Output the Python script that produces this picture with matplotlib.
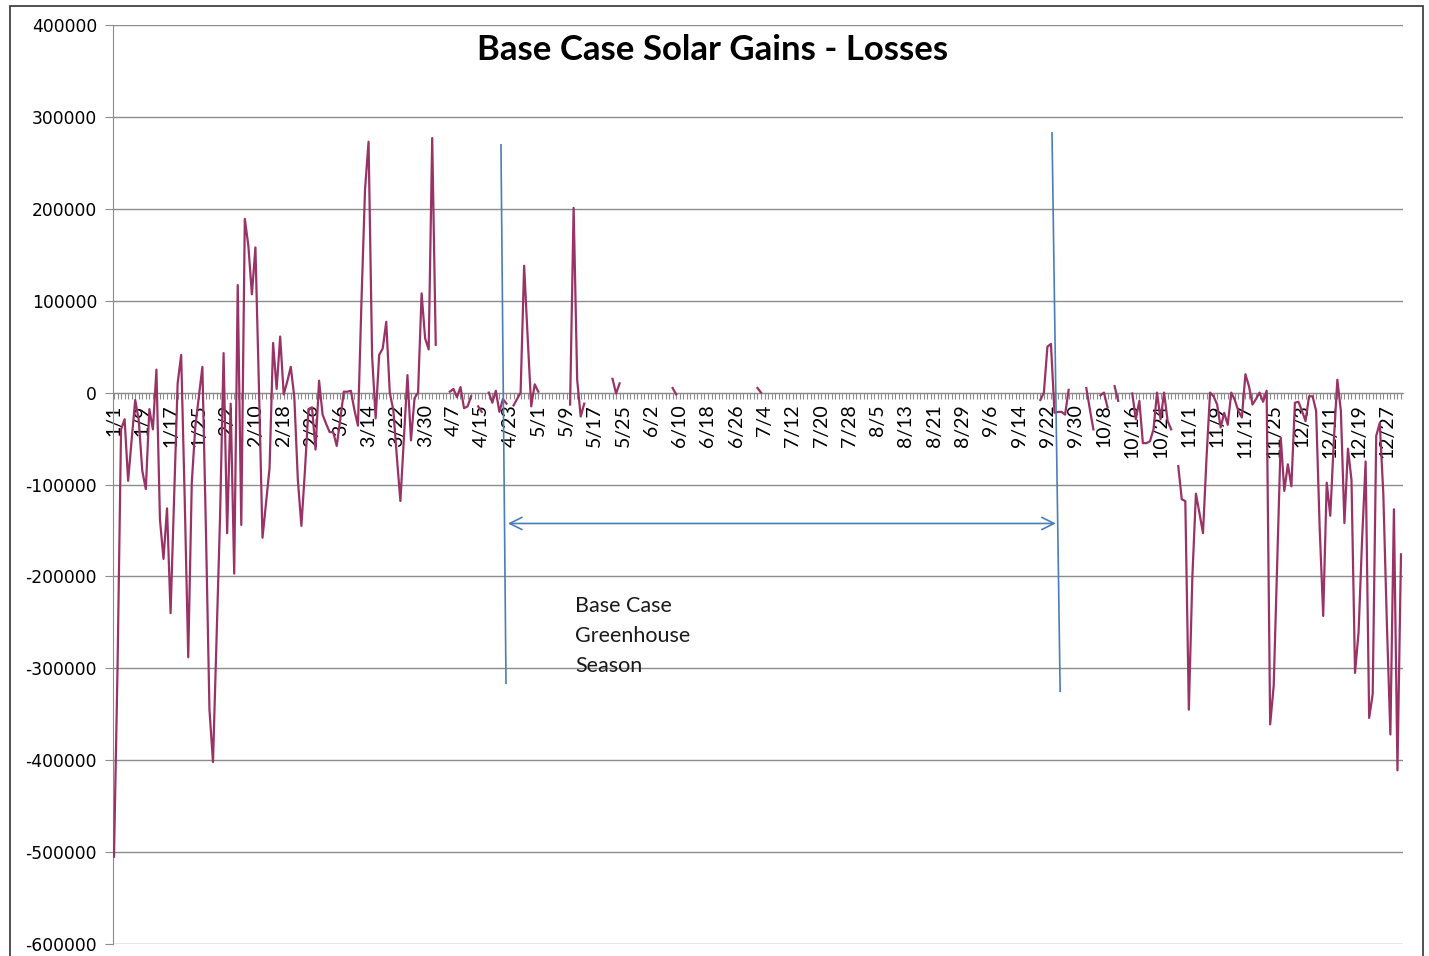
import numpy as np
import matplotlib
matplotlib.use("Agg")
import matplotlib.pyplot as plt
from matplotlib.ticker import MultipleLocator, FuncFormatter
from matplotlib.patches import Rectangle

nan = np.nan

# Daily "solar gains - losses" values (one per day, non-leap year); nan = no value
jan = [-505000, -300000, -40000, -29000, -96000, -51000, -8000, -30000, -85000, -105000,
       -18000, -40000, 25000, -138000, -181000, -126000, -240000, -115000, 10000, 41000,
       -116000, -288000, -98000, -37000, -4000, 28000, -149000, -345000, -402000, -270000,
       -135000]
feb = [43000, -153000, -12000, -197000, 117000, -144000, 189000, 160000, 107000, 158000,
       5000, -158000, -120000, -82000, 54000, 4000, 61000, -2000, 12000, 28000,
       -5000, -95000, -145000, -85000, -18000, -16000, -62000, 13000]
mar = [-24000, -34000, -43000, -43000, -58000, -29000, 1000, 1000, 2000, -19000,
       -36000, 100000, 221000, 273000, 40000, -28000, 41000, 48000, 77000, 0,
       -19000, -70000, -118000, -50000, 19000, -52000, -6000, 0, 108000, 59000,
       47000]
apr = [277000, 52000, nan, nan, nan, 1000, 4000, -5000, 6000, -17000,
       -15000, -4000, nan, -15000, -21000, nan, 0, -11000, 2000, -21000,
       -7000, -12000, nan, -14000, -7000, 0, 138000, 60000, -15000, 9000]
may = [1000, nan, nan, nan, nan, nan, nan, nan, nan, -13000,
       201000, 14000, -26000, -12000, nan, nan, nan, nan, nan, nan,
       nan, 15000, -1000, 10000, nan, nan, nan, nan, nan, nan,
       nan]
jun = [nan] * 7 + [5000, -2000] + [nan] * 21
jul = [nan, 5000, 0] + [nan] * 28
aug = [nan] * 31
sep = [nan] * 19 + [-8000, 0, 50000, 53000, -22000, -21000, -21000, -24000, 3000, nan, nan]
oct_ = [nan, nan, 5000, -18000, -40000, nan, -3000, 0, -16000, nan,
        7000, -9000, nan, nan, nan, -1000, -29000, -9000, -55000, -55000,
        -53000, -40000, 0, -29000, 0, -31000, -40000, nan, -80000, -116000,
        -118000]
nov = [-345000, -200000, -110000, -131000, -153000, -71000, 0, -4000, -13000, -38000,
       -22000, -35000, 0, -8000, -20000, -27000, 20000, 7000, -13000, -7000,
       0, -10000, 2000, -361000, -319000, -185000, -49000, -107000, -78000, -102000]
dec = [-11000, -10000, -20000, -31000, -4000, -4000, -20000, -147000, -243000, -98000,
       -134000, -53000, 14000, -20000, -142000, -61000, -95000, -305000, -261000, -160000,
       -75000, -354000, -328000, -47000, -33000, -110000, -250000, -372000, -127000, -411000,
       -176000]

tick_labels = ["1/1", "1/9", "1/17", "1/25", "2/2", "2/10", "2/18", "2/26", "3/6", "3/14",
               "3/22", "3/30", "4/7", "4/15", "4/23", "5/1", "5/9", "5/17", "5/25", "6/2",
               "6/10", "6/18", "6/26", "7/4", "7/12", "7/20", "7/28", "8/5", "8/13", "8/21",
               "8/29", "9/6", "9/14", "9/22", "9/30", "10/8", "10/16", "10/24", "11/1", "11/9",
               "11/17", "11/25", "12/3", "12/11", "12/19", "12/27"]
label_step = 8

# annotation: greenhouse season markers (day index, value)
season_start_line = ([109.45, 110.87], [269600, -316300])
season_end_line = ([265.3, 267.6], [282600, -325000])
season_arrow_y = -142400
season_arrow_x = (111.4, 266.4)
season_text_pos = (130.4, -221000)

values = np.array(jan + feb + mar + apr + may + jun + jul + aug + sep + oct_ + nov + dec, dtype=float)
days = np.arange(len(values))

W, H = 1429, 956
fig = plt.figure(figsize=(W / 100, H / 100), dpi=100)
ax = fig.add_axes([113 / W, 1 - 944 / H, (1403 - 113) / W, (944 - 25) / H])

gray = "#8c8c8c"
ax.plot(days, values, color="#993366", lw=1.6, zorder=3)

ax.set_xlim(-0.28, 364.57)
ax.set_ylim(-600000, 400000)
ax.yaxis.set_major_locator(MultipleLocator(100000))
ax.yaxis.set_major_formatter(FuncFormatter(lambda v, p: "%d" % v))
ax.grid(axis="y", color=gray, lw=1.0)
ax.set_axisbelow(True)

for s in ("top", "right"):
    ax.spines[s].set_visible(False)
ax.spines["left"].set_color(gray)
ax.spines["bottom"].set_color(gray)
ax.spines["bottom"].set_position(("data", 0))

ax.set_xticks(days[::label_step])
ax.set_xticklabels(tick_labels, rotation=90, fontfamily="Lato", fontsize=14)
ax.xaxis.set_minor_locator(MultipleLocator(1))
ax.tick_params(axis="x", which="both", direction="out", length=4.5, color=gray, width=0.8, pad=4)
ax.tick_params(axis="y", direction="out", length=5.5, color=gray, width=0.8, pad=6, labelsize=12.3)
for t in ax.get_yticklabels():
    t.set_fontfamily("DejaVu Sans")

blue = "#4A7EBB"
ax.plot(*season_start_line, color=blue, lw=1.2, zorder=4)
ax.plot(*season_end_line, color=blue, lw=1.2, zorder=4)
ax.annotate("", xy=(season_arrow_x[1], season_arrow_y), xytext=(season_arrow_x[0], season_arrow_y),
            arrowprops=dict(arrowstyle="<->", color=blue, lw=1.2, mutation_scale=22,
                            shrinkA=0, shrinkB=0), zorder=4)
ax.text(season_text_pos[0], season_text_pos[1], "Base Case\nGreenhouse\nSeason",
        fontsize=15.5, family="Lato", va="top", ha="left", linespacing=1.62, color="#1a1a1a")

fig.text(713 / W, 1 - 50 / H, "Base Case Solar Gains - Losses", ha="center", va="center",
         fontsize=25, fontweight="bold", family="Lato")

fig.patches.append(Rectangle((10 / W, -0.02), 1413 / W, 1 - 6 / H + 0.02, transform=fig.transFigure,
                             fill=False, ec="#333333", lw=1.2))

fig.savefig("out.png", dpi=100)
